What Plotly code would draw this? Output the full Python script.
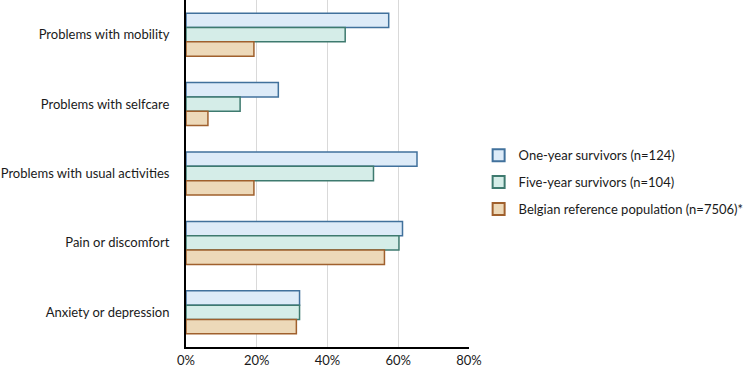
import plotly.graph_objects as go

categories = ["Problems with mobility", "Problems with selfcare", "Problems with usual activities",
              "Pain or discomfort", "Anxiety or depression"]
one_year = [57.3, 26.1, 65.3, 61.2, 32.1]
five_year = [45.0, 15.3, 53.0, 60.2, 32.1]
belgian = [19.2, 6.2, 19.2, 56.1, 31.2]
series_names = ["One-year survivors (n=124)", "Five-year survivors (n=104)",
                "Belgian reference population (n=7506)*"]
x_ticks = [0, 20, 40, 60, 80]
x_tick_labels = ["0%", "20%", "40%", "60%", "80%"]

fills = ["#DDEBF8", "#D5EDE8", "#EDD9B9"]
borders = ["#41719C", "#3E7A6F", "#A0602D"]

fig = go.Figure()
for i, (name, vals, fc, bc) in enumerate(zip(series_names, [one_year, five_year, belgian], fills, borders)):
    fig.add_trace(go.Bar(
        y=categories, x=vals, name=name, orientation="h", legendgroup=f"g{i}",
        marker=dict(color=fc, line=dict(color=bc, width=1.5)),
    ))

font_family = "Lato, Carlito, Calibri, sans-serif"
fig.update_layout(
    width=750, height=371,
    margin=dict(l=186, r=281, t=0, b=24, autoexpand=False),
    paper_bgcolor="white", plot_bgcolor="white",
    barmode="group", bargap=0.38, bargroupgap=0,
    font=dict(family=font_family, size=13, color="#1a1a1a"),
    showlegend=True,
    legend=dict(x=1.034, y=0.475, xanchor="left", yanchor="middle",
                font=dict(size=13), tracegroupgap=7, itemsizing="constant",
                bgcolor="rgba(0,0,0,0)", traceorder="grouped"),
    xaxis=dict(range=[0, 80], tickvals=x_ticks, ticktext=x_tick_labels,
               showgrid=True, gridcolor="#D9D9D9", gridwidth=1,
               showline=True, linecolor="black", linewidth=2,
               zeroline=False, ticks="", tickfont=dict(size=13)),
    yaxis=dict(autorange="reversed", showline=True, linecolor="black", linewidth=2,
               ticks="", ticklabelstandoff=12, showgrid=False, tickfont=dict(size=13)),
)

fig.write_html("out.html", config={"displayModeBar": False},
               post_script="document.body.style.margin='0';document.body.style.overflow='hidden';")
